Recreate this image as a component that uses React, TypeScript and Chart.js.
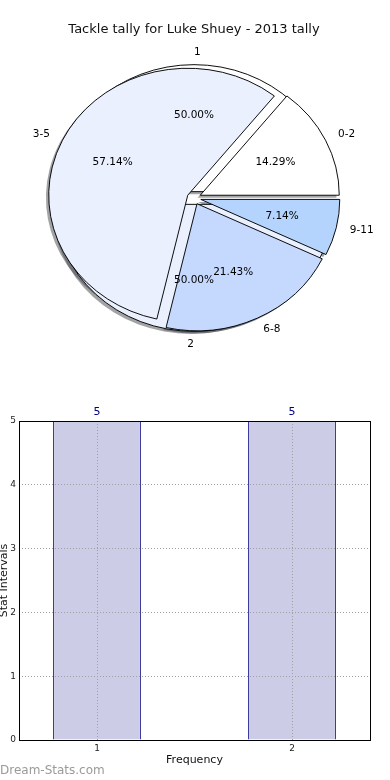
import React, { useEffect, useRef } from 'react';
import { Chart, registerables, ArcElement } from 'chart.js';

Chart.register(...registerables);

// ---------- data ----------
const TITLE = 'Tackle tally for Luke Shuey - 2013 tally';
const pieCategories = ['0-2', '3-5', '6-8', '9-11'];
const pieValues = [2, 8, 3, 1];
const pieColors = ['#ffffff', '#eaf0fe', '#c5d8fe', '#b4d4fe'];
const pieExplode = [0.05, 0.05, 0.05, 0.05];

const ghostCategories = ['1', '2'];
const ghostValues = [1, 1];
const ghostColors = ['#ffffff', '#eaf0fe'];
const ghostExplode = [0.05, 0.05];

const barCategories = [1, 2];
const barValues = [5, 5];
const barTickLabels = ['1', '2'];
const yTickValues = [0, 1, 2, 3, 4, 5];
const X_TITLE = 'Frequency';
const Y_TITLE = 'Stat Intervals';
const WATERMARK = 'Dream-Stats.com';

// ---------- styling constants ----------
const FONT = '"DejaVu Sans", sans-serif';
const SX = 139 / 127; // horizontal stretch of the pie (non-equal aspect)
const SHADOW = 0.02;

const shadowOf = (hex: string) => {
  const v = parseInt(hex.slice(1), 16);
  const r = Math.round(((v >> 16) & 255) * 0.3);
  const g = Math.round(((v >> 8) & 255) * 0.3);
  const b = Math.round((v & 255) * 0.3);
  return `rgba(${r},${g},${b},0.5)`;
};

const revIdx = pieValues.map((_, i) => pieValues.length - 1 - i);

const pct = (vals: number[], i: number) => {
  const t = vals.reduce((a, b) => a + b, 0);
  return ((vals[i] / t) * 100).toFixed(2) + '%';
};

function buildGhosts(cx: number, cy: number, r: number, baseOpts: any) {
  const total = ghostValues.reduce((a, b) => a + b, 0);
  let a = 0;
  return ghostValues.map((v, i) => {
    const sweep = (v / total) * Math.PI * 2;
    const el: any = new (ArcElement as any)({
      x: cx,
      y: cy,
      startAngle: -(a + sweep),
      endAngle: -a,
      circumference: sweep,
      innerRadius: 0,
      outerRadius: r,
      options: { ...baseOpts, backgroundColor: ghostColors[i], offset: 0 },
    });
    a += sweep;
    return { el, explode: ghostExplode[i], color: ghostColors[i] };
  });
}

const pieDecor = {
  id: 'pieDecor',
  beforeDatasetsDraw(chart: any) {
    const ctx = chart.ctx as CanvasRenderingContext2D;
    const arcs = chart.getDatasetMeta(0).data as any[];
    const n = arcs.length;
    const cx = arcs[0].x, cy = arcs[0].y, r = arcs[0].outerRadius;
    const ghosts = buildGhosts(cx, cy, r, arcs[0].options);
    const main = pieCategories.map((_, i) => ({ el: arcs[n - 1 - i], explode: pieExplode[i], color: pieColors[i] }));
    ctx.save();
    ctx.translate(cx, cy);
    ctx.scale(SX, 1);
    ctx.translate(-cx, -cy);
    const shifted = (el: any, e: number, dx: number, dy: number, fn: () => void) => {
      const mid = (el.startAngle + el.endAngle) / 2;
      ctx.save();
      ctx.translate(e * r * Math.cos(mid) + dx, e * r * Math.sin(mid) + dy);
      fn();
      ctx.restore();
    };
    const copyArc = (src: any, opts: any) => {
      const el: any = new (ArcElement as any)({
        x: src.x, y: src.y, startAngle: src.startAngle, endAngle: src.endAngle,
        circumference: src.circumference, innerRadius: 0, outerRadius: src.outerRadius, options: opts,
      });
      el.draw(ctx);
    };
    for (const g of [...ghosts, ...main]) {
      shifted(g.el, g.explode, -SHADOW * r, SHADOW * r, () =>
        copyArc(g.el, { ...g.el.options, backgroundColor: shadowOf(g.color), borderWidth: 0, offset: 0 })
      );
    }
    for (const g of ghosts) shifted(g.el, g.explode, 0, 0, () => g.el.draw(ctx));
    for (const m of main) shifted(m.el, m.explode, 0, 0, () => m.el.draw(ctx));
    ctx.restore();
    return false;
  },
  afterDraw(chart: any) {
    const ctx = chart.ctx as CanvasRenderingContext2D;
    const arcs = chart.getDatasetMeta(0).data as any[];
    const n = arcs.length;
    const cx = arcs[0].x, cy = arcs[0].y, r = arcs[0].outerRadius;
    const ghosts = buildGhosts(cx, cy, r, arcs[0].options);
    ctx.save();
    ctx.font = `10.5px ${FONT}`;
    ctx.fillStyle = '#000';
    ctx.textBaseline = 'middle';
    const put = (el: any, e: number, dist: number, text: string, align?: CanvasTextAlign) => {
      const mid = (el.startAngle + el.endAngle) / 2;
      const px = (e + dist) * r * Math.cos(mid);
      const py = (e + dist) * r * Math.sin(mid);
      ctx.textAlign = align ?? (Math.cos(mid) > 0 ? 'left' : 'right');
      ctx.fillText(text, cx + px * SX, cy + py);
    };
    ghosts.forEach((g, i) => {
      put(g.el, g.explode, 1.1, ghostCategories[i]);
      put(g.el, g.explode, 0.6, pct(ghostValues, i), 'center');
    });
    pieCategories.forEach((c, i) => {
      const el = arcs[n - 1 - i];
      put(el, pieExplode[i], 1.1, c);
      put(el, pieExplode[i], 0.6, pct(pieValues, i), 'center');
    });
    ctx.restore();
  },
};

const barDecor = {
  id: 'barDecor',
  afterDatasetsDraw(chart: any) {
    const ctx = chart.ctx as CanvasRenderingContext2D;
    const meta = chart.getDatasetMeta(0);
    ctx.save();
    ctx.font = `11px ${FONT}`;
    ctx.fillStyle = '#000080';
    ctx.textAlign = 'center';
    ctx.textBaseline = 'middle';
    meta.data.forEach((el: any, i: number) => ctx.fillText(String(barValues[i]), el.x, el.y - 9));
    ctx.restore();
  },
  afterDraw(chart: any) {
    const ctx = chart.ctx as CanvasRenderingContext2D;
    const a = chart.chartArea;
    ctx.save();
    ctx.strokeStyle = '#000';
    ctx.lineWidth = 1;
    ctx.strokeRect(Math.round(a.left) + 0.5, Math.round(a.top) + 0.5, Math.round(a.right - a.left), Math.round(a.bottom - a.top));
    ctx.font = `12px ${FONT}`;
    ctx.fillStyle = '#9a9a9a';
    ctx.textAlign = 'left';
    ctx.textBaseline = 'alphabetic';
    ctx.fillText(WATERMARK, 0, chart.height - 6);
    ctx.restore();
  },
};

export default function App() {
  const pieRef = useRef<HTMLCanvasElement>(null);
  const barRef = useRef<HTMLCanvasElement>(null);

  useEffect(() => {
    const pie = new Chart(pieRef.current as HTMLCanvasElement, {
      type: 'pie',
      data: {
        labels: revIdx.map((i) => pieCategories[i]),
        datasets: [
          {
            data: revIdx.map((i) => pieValues[i]),
            backgroundColor: revIdx.map((i) => pieColors[i]),
            borderColor: '#000',
            borderWidth: 0.9,
            borderJoinStyle: 'miter',
            offset: 0,
          } as any,
        ],
      },
      options: {
        responsive: false,
        animation: false,
        radius: 127,
        rotation: 90,
        layout: { padding: { top: 0, left: 0, right: 2, bottom: 21.6 } },
        plugins: {
          legend: { display: false },
          tooltip: { enabled: false },
          title: {
            display: true,
            text: TITLE,
            color: '#111',
            font: { family: FONT, size: 13, weight: 'normal' },
            padding: { top: 22, bottom: 0 },
          },
        },
      } as any,
      plugins: [pieDecor as any],
    });

    const bar = new Chart(barRef.current as HTMLCanvasElement, {
      type: 'bar',
      data: {
        datasets: [
          {
            data: barCategories.map((c, i) => ({ x: c, y: barValues[i] })),
            backgroundColor: '#cccce6',
            borderColor: '#000080',
            borderWidth: 1,
            barPercentage: 0.45,
            categoryPercentage: 1,
          } as any,
        ],
      },
      options: {
        responsive: false,
        animation: false,
        layout: { padding: { top: 41, right: 20, left: 0, bottom: 0 } },
        plugins: { legend: { display: false }, tooltip: { enabled: false } },
        scales: {
          x: {
            type: 'linear',
            min: 0.6,
            max: 2.4,
            offset: false,
            afterBuildTicks: (s: any) => {
              s.ticks = barCategories.map((v) => ({ value: v }));
            },
            afterFit: (s: any) => {
              s.height = 40;
            },
            ticks: {
              callback: (v: any) => barTickLabels[barCategories.indexOf(v)] ?? '',
              font: { family: FONT, size: 9 },
              color: '#222',
              padding: 3,
              maxRotation: 0,
              autoSkip: false,
            },
            grid: { color: '#a0a0a0', lineWidth: 1, drawTicks: false, offset: false, z: 1 },
            border: { display: false, dash: [1, 2] },
            title: {
              display: true,
              text: X_TITLE,
              color: '#111',
              font: { family: FONT, size: 11 },
              padding: { top: 0, bottom: 13.4 },
            },
          },
          y: {
            min: 0,
            max: 5,
            afterBuildTicks: (s: any) => {
              s.ticks = yTickValues.map((v) => ({ value: v }));
            },
            afterFit: (s: any) => {
              s.width = 19;
            },
            ticks: {
              font: { family: FONT, size: 9 },
              color: '#222',
              padding: 3,
            },
            grid: { color: '#a0a0a0', lineWidth: 1, drawTicks: false, z: 1 },
            border: { display: false, dash: [1, 2] },
            title: {
              display: true,
              text: Y_TITLE,
              color: '#111',
              font: { family: FONT, size: 11 },
              padding: { top: -2.6, bottom: 0 },
            },
          },
        },
      } as any,
      plugins: [barDecor as any],
    });

    return () => {
      pie.destroy();
      bar.destroy();
    };
  }, []);

  return (
    <div style={{ position: 'absolute', left: 0, top: 0, width: 390, height: 780, background: '#fff' }}>
      <canvas ref={pieRef} width={390} height={380} style={{ position: 'absolute', left: 0, top: 0 }} />
      <canvas ref={barRef} width={390} height={400} style={{ position: 'absolute', left: 0, top: 380 }} />
    </div>
  );
}
